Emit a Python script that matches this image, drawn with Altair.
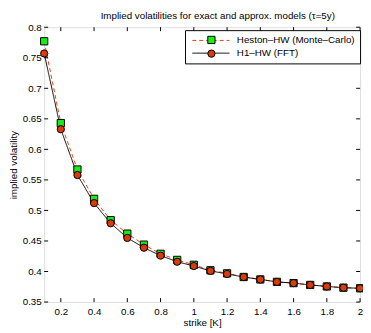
import altair as alt
import pandas as pd

strike = [0.1, 0.2, 0.3, 0.4, 0.5, 0.6, 0.7, 0.8, 0.9, 1.0,
          1.1, 1.2, 1.3, 1.4, 1.5, 1.6, 1.7, 1.8, 1.9, 2.0]
heston_mc = [0.777, 0.643, 0.567, 0.519, 0.484, 0.462, 0.444, 0.429, 0.419, 0.411,
             0.402, 0.397, 0.391, 0.387, 0.383, 0.381, 0.378, 0.3755, 0.3735, 0.3725]
h1_fft = [0.757, 0.633, 0.558, 0.512, 0.479, 0.455, 0.439, 0.426, 0.416, 0.409,
          0.401, 0.396, 0.391, 0.387, 0.383, 0.381, 0.378, 0.3755, 0.3735, 0.3725]
series_names = ["Heston–HW (Monte–Carlo)", "H1–HW (FFT)"]
marker_keys = ["sq", "ci"]
x_ticks = [0.2, 0.4, 0.6, 0.8, 1.0, 1.2, 1.4, 1.6, 1.8, 2.0]
y_ticks = [0.35, 0.4, 0.45, 0.5, 0.55, 0.6, 0.65, 0.7, 0.75, 0.8]

rows = []
for name, key, vals in zip(series_names, marker_keys, [heston_mc, h1_fft]):
    for k, v in zip(strike, vals):
        rows.append({"strike": k, "vol": v, "series": name, "mk": key})
df = pd.DataFrame(rows)

W, H = 323, 281
FONT = "Liberation Sans"
TL = 4  # inward tick length

xscale = alt.Scale(domain=[0.1, 2.0], nice=False, zero=False)
yscale = alt.Scale(domain=[0.35, 0.8], nice=False, zero=False)

x_axis = alt.Axis(values=x_ticks, format="~g", ticks=False, domain=False,
                  grid=False, labelPadding=5, title="strike [K]",
                  titlePadding=1, labelFlush=False, labelOverlap=False,
                  titleFontWeight="normal", titleFont=FONT, titleFontSize=10)
y_axis = alt.Axis(values=y_ticks, format="~g", ticks=False, domain=False,
                  grid=False, labelPadding=3, title="implied volatility",
                  titlePadding=4, labelFlush=False, labelOverlap=False,
                  titleFontWeight="normal", titleFont=FONT, titleFontSize=10)

x_enc = alt.X("strike:Q", scale=xscale, axis=x_axis)
y_enc = alt.Y("vol:Q", scale=yscale, axis=y_axis)

LEG_PAD = 5
lines = alt.Chart(df).mark_line(strokeWidth=1).encode(
    x=x_enc, y=y_enc,
    color=alt.Color("series:N",
                    scale=alt.Scale(domain=series_names, range=["#f03a14", "#000000"]),
                    legend=alt.Legend(orient="none", legendX=144, legendY=3,
                                      title=None, symbolType="M-0.6,0H7", symbolSize=100,
                                      symbolStrokeWidth=1, labelFont=FONT, labelFontSize=10,
                                      labelColor="black", padding=LEG_PAD, rowPadding=2,
                                      labelOffset=37, strokeColor="black",
                                      fillColor="white", cornerRadius=0)),
    strokeDash=alt.StrokeDash("series:N",
                              scale=alt.Scale(domain=series_names, range=[[4, 3], [1, 0]]),
                              legend=alt.Legend(orient="none", legendX=144, legendY=3,
                                                title=None)),
)

points = alt.Chart(df).mark_point(filled=True, stroke="black", strokeWidth=1,
                                  opacity=1, size=55).encode(
    x=x_enc, y=y_enc,
    fill=alt.Fill("mk:N", scale=alt.Scale(domain=marker_keys, range=["#16ee16", "#dc3a08"]),
                  legend=alt.Legend(orient="none", legendX=161, legendY=3, title=None,
                                    symbolSize=55, symbolStrokeColor="black",
                                    symbolStrokeWidth=1, labelOpacity=0, labelFontSize=10,
                                    labelFont=FONT, padding=LEG_PAD, rowPadding=2)),
    shape=alt.Shape("mk:N", scale=alt.Scale(domain=marker_keys, range=["square", "circle"]),
                    legend=alt.Legend(orient="none", legendX=161, legendY=3, title=None)),
)

xt = pd.DataFrame({"t": x_ticks})
yt = pd.DataFrame({"t": y_ticks})
xs = alt.X("t:Q", scale=xscale, axis=x_axis)
ys = alt.Y("t:Q", scale=yscale, axis=y_axis)
tick_bot = alt.Chart(xt).mark_rule(color="black", strokeWidth=1).encode(
    x=xs, y=alt.value(H), y2=alt.value(H - TL))
tick_top = alt.Chart(xt).mark_rule(color="black", strokeWidth=1).encode(
    x=xs, y=alt.value(0), y2=alt.value(TL))
tick_l = alt.Chart(yt).mark_rule(color="black", strokeWidth=1).encode(
    y=ys, x=alt.value(0), x2=alt.value(TL))
tick_r = alt.Chart(yt).mark_rule(color="black", strokeWidth=1).encode(
    y=ys, x=alt.value(W), x2=alt.value(W - TL))

chart = alt.layer(lines, points, tick_bot, tick_top, tick_l, tick_r).properties(
    width=W, height=H,
    title=alt.TitleParams("Implied volatilities for exact and approx. models (τ=5y)",
                          font=FONT, fontSize=10, fontWeight="normal", color="black",
                          anchor="middle", dx=16, offset=1),
    autosize=alt.AutoSizeParams(type="none"),
    padding={"left": 37, "top": 16, "right": 3, "bottom": 28},
).configure_view(stroke="black", strokeWidth=1).configure_axis(
    labelFont=FONT, labelFontSize=10, labelColor="black",
    titleFont=FONT, titleFontSize=10, titleFontWeight="normal", titleColor="black"
).configure(background="white")

chart.save("out.html", embed_options={"renderer": "svg", "actions": False})
